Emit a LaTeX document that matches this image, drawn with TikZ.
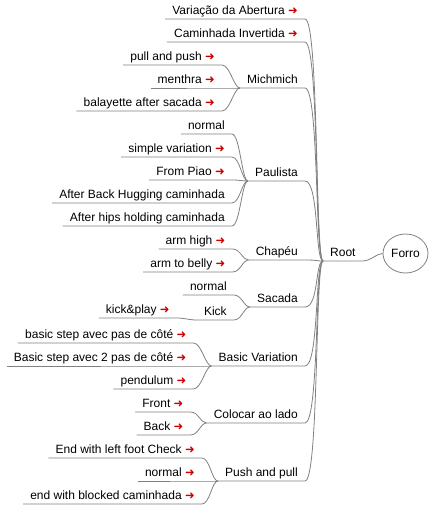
\documentclass[tikz,border=0pt]{standalone}
\usepackage{fontspec}
\setmainfont{Liberation Sans}
\newfontfamily\arrowfont{DejaVu Sans}
\usetikzlibrary{shapes.geometric}
\definecolor{linkred}{RGB}{204,0,0}
\definecolor{branchgray}{RGB}{128,128,128}
\newcommand{\go}{{\arrowfont\color{linkred}\fontsize{11.5}{12}\selectfont ➜}}

\begin{document}
\begin{tikzpicture}[x=1pt, y=-1pt, font=\fontsize{12}{14}\selectfont,
  topic/.style={anchor=south east, inner xsep=7pt, inner ysep=2pt, text depth=2pt},
  leaf/.style={topic},
  branch/.style={draw=branchgray, line width=0.8pt}]
\useasboundingbox (0,0) rectangle (428,505);
% Centre
\node [ellipse, draw=branchgray, line width=0.8pt, minimum width=45pt, minimum height=39pt, inner sep=0pt] (forro) at (405.5,253.5) {Forro};
\node [topic, anchor=south west] (root) at (323,261) {Root};
\draw [branch] (root.south west) -- (root.south east) .. controls +(8,0) and +(-6,0) .. (forro.west);
% First layer
\foreach \name/\txt/\y in {var/Variação da Abertura \go/19, cam/Caminhada Invertida \go/42, mich/Michmich/88, paul/Paulista/181, chap/Chapéu/260, sac/Sacada/307, basic/Basic Variation/366, colo/Colocar ao lado/423, push/Push and pull/481}
  \node [topic] (\name) at (305,\y) {\txt};
% First layer branches
\foreach \name in {var, cam, mich, paul, chap, sac, basic, colo, push}
  \draw [branch] (\name.south west) -- (\name.south east) .. controls +(14,0) and +(-8,0) .. (root.south west);
% Michmich
\foreach \txt/\y [count=\i] in {pull and push \go/65, menthra\ \go/88, balayette after sacada \go/111} {
  \node [leaf] (mich-\i) at ([xshift=-18pt]mich.south west |- 0,\y) {\txt};
  \draw [branch] (mich-\i.south west) -- (mich-\i.south east) .. controls +(8,0) and +(-6,0) .. (mich.south west);
}
% Paulista
\foreach \txt/\y [count=\i] in {normal/134, simple variation \go/157, From Piao \go/180, After Back Hugging caminhada/203, After hips holding caminhada/226} {
  \node [leaf] (paul-\i) at ([xshift=-16pt]paul.south west |- 0,\y) {\txt};
  \draw [branch] (paul-\i.south west) -- (paul-\i.south east) .. controls +(8,0) and +(-6,0) .. (paul.south west);
}
% Chapeu
\foreach \txt/\y [count=\i] in {arm high \go/249, arm to belly \go/272} {
  \node [leaf] (chap-\i) at ([xshift=-16pt]chap.south west |- 0,\y) {\txt};
  \draw [branch] (chap-\i.south west) -- (chap-\i.south east) .. controls +(8,0) and +(-6,0) .. (chap.south west);
}
% Sacada
\foreach \txt/\y [count=\i] in {normal/295, Kick/320} {
  \node [leaf] (sac-\i) at ([xshift=-16pt]sac.south west |- 0,\y) {\txt};
  \draw [branch] (sac-\i.south west) -- (sac-\i.south east) .. controls +(8,0) and +(-6,0) .. (sac.south west);
}
\node [leaf] (kickplay) at ([xshift=-20pt]sac-2.south west |- 0,318) {kick\&play \go};
\draw [branch] (kickplay.south west) -- (kickplay.south east) .. controls +(8,0) and +(-8,0) .. (sac-2.south west);
% Basic Variation
\foreach \txt/\y [count=\i] in {basic step avec pas de côté \go/343, Basic step avec 2 pas de côté \go/366, pendulum \go/389} {
  \node [leaf] (basic-\i) at ([xshift=-18pt]basic.south west |- 0,\y) {\txt};
  \draw [branch] (basic-\i.south west) -- (basic-\i.south east) .. controls +(8,0) and +(-6,0) .. (basic.south west);
}
% Colocar ao lado
\foreach \txt/\y [count=\i] in {Front \go/412, Back \go/435} {
  \node [leaf] (colo-\i) at ([xshift=-16pt]colo.south west |- 0,\y) {\txt};
  \draw [branch] (colo-\i.south west) -- (colo-\i.south east) .. controls +(8,0) and +(-6,0) .. (colo.south west);
}
% Push and pull
\foreach \txt/\y [count=\i] in {End with left foot Check \go/458, normal \go/481, end with blocked caminhada \go/504} {
  \node [leaf] (push-\i) at ([xshift=-16pt]push.south west |- 0,\y) {\txt};
  \draw [branch] (push-\i.south west) -- (push-\i.south east) .. controls +(8,0) and +(-6,0) .. (push.south west);
}
\end{tikzpicture}
\end{document}
